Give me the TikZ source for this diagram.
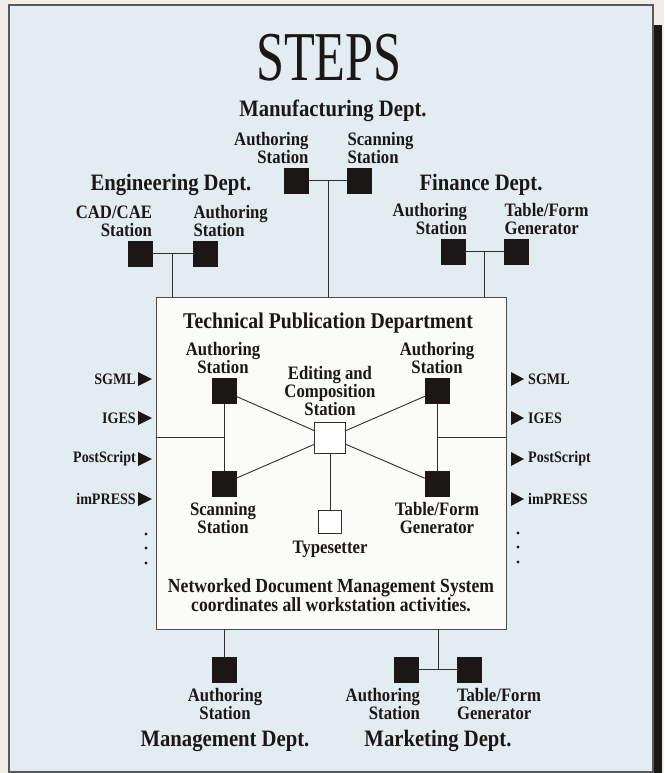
\documentclass[tikz,border=0pt]{standalone}
\usepackage{fontspec}
\setmainfont{Liberation Serif}
\newfontfamily\labfont[FakeStretch=0.88]{Liberation Serif}
\newfontfamily\ttlfont[FakeStretch=0.72]{Liberation Serif}
\definecolor{outer}{HTML}{F1EEE7}
\definecolor{panel}{HTML}{E3EDF1}
\definecolor{boxfill}{HTML}{FBFBF9}
\definecolor{ink}{HTML}{1B1717}
\definecolor{lncol}{HTML}{2E2E2E}
\tikzset{
  sq/.style={draw=ink, fill=ink, minimum width=24pt, minimum height=25pt, inner sep=0pt},
  wsq/.style={draw=lncol, line width=0.9pt, fill=white, inner sep=0pt},
  lbl/.style={font=\labfont\bfseries\fontsize{19}{18}\selectfont, inner sep=0pt, text=ink},
  deptlbl/.style={font=\labfont\bfseries\fontsize{23.5}{24}\selectfont, inner sep=0pt, text=ink},
  fmt/.style={font=\labfont\bfseries\fontsize{16}{16}\selectfont, inner sep=0pt, text=ink},
  ln/.style={draw=lncol, line width=0.9pt},
  tri/.style={fill=ink}
}
\begin{document}
\begin{tikzpicture}[x=1pt,y=-1pt]
\useasboundingbox (0,0) rectangle (664,773);
\fill[outer] (0,0) rectangle (664,773);
\fill[panel] (9,5) rectangle (653,772);
\draw[draw=black!65, line width=1.6pt] (9,772) -- (9,5) -- (653,5) -- (653,772) -- cycle;
\fill[ink] (654,25) rectangle (662,773);

% title
\node[font=\ttlfont\fontsize{70}{70}\selectfont, inner sep=0pt, text=ink, anchor=base] (title) at (329,81) {STEPS};

% main box
\node[draw=black!70, line width=0.8pt, fill=boxfill, minimum width=350pt, minimum height=332pt, inner sep=0pt] (box) at (331,463) {};

% Manufacturing
\node[deptlbl] (mdept) at (333,111) {Manufacturing Dept.};
\node[sq] (mA) at (296.5,180.5) {};
\node[sq] (mS) at (359.5,180.5) {};
\coordinate (mJ) at (328,180.5);
\node[lbl, align=right, anchor=south east] (mAl) at ([yshift=4pt]mA.north east) {Authoring\\Station};
\node[lbl, align=left, anchor=south west] (mSl) at ([yshift=4pt]mS.north west) {Scanning\\Station};
\draw[ln] (mA) -- (mS);
\draw[ln] (mJ) -- (mJ |- box.north);

% Engineering
\node[deptlbl] (edept) at (171,185) {Engineering Dept.};
\node[sq] (eC) at (140,253.5) {};
\node[sq] (eA) at (205.5,253.5) {};
\coordinate (eJ) at (172,253.5);
\node[lbl, align=right, anchor=south east] (eCl) at ([yshift=4pt]eC.north east) {CAD/CAE\\Station};
\node[lbl, align=left, anchor=south west] (eAl) at ([yshift=4pt]eA.north west) {Authoring\\Station};
\draw[ln] (eC) -- (eA);
\draw[ln] (eJ) -- (eJ |- box.north);

% Finance
\node[deptlbl] (fdept) at (481,185) {Finance Dept.};
\node[sq] (fA) at (453,251.5) {};
\node[sq] (fT) at (516.5,251.5) {};
\coordinate (fJ) at (484,251.5);
\node[lbl, align=right, anchor=south east] (fAl) at ([yshift=4pt,xshift=2pt]fA.north east) {Authoring\\Station};
\node[lbl, align=left, anchor=south west] (fTl) at ([yshift=4pt]fT.north west) {Table/Form\\Generator};
\draw[ln] (fA) -- (fT);
\draw[ln] (fJ) -- (fJ |- box.north);

% inside the box
\node[font=\labfont\bfseries\fontsize{22.5}{23}\selectfont, inner sep=0pt, text=ink] (tpd) at (328,323) {Technical Publication Department};
\node[sq] (lA) at (224,391) {};
\node[sq] (rA) at (437,391) {};
\node[wsq, minimum size=31pt] (ec) at (330,437.5) {};
\node[sq] (lS) at (224,483.5) {};
\node[sq] (rT) at (437,483.5) {};
\node[wsq, minimum size=23pt] (ty) at (330,521.5) {};
\node[lbl, align=center, anchor=south] (lAl) at ([yshift=4pt,xshift=-1pt]lA.north) {Authoring\\Station};
\node[lbl, align=center, anchor=south] (rAl) at ([yshift=4pt]rA.north) {Authoring\\Station};
\node[lbl, align=center, anchor=south] (ecl) at ([yshift=6pt]ec.north) {Editing and\\Composition\\Station};
\node[lbl, align=center, anchor=north] (lSl) at ([yshift=-6pt,xshift=-1pt]lS.south) {Scanning\\Station};
\node[lbl, align=center, anchor=north] (rTl) at ([yshift=-6pt]rT.south) {Table/Form\\Generator};
\node[lbl, anchor=north] (tyl) at ([yshift=-7pt]ty.south) {Typesetter};
\draw[ln] (lA) -- (ec);
\draw[ln] (rA) -- (ec);
\draw[ln] (lS) -- (ec);
\draw[ln] (rT) -- (ec);
\draw[ln] (lA) -- (lS);
\draw[ln] (rA) -- (rT);
\draw[ln] (ec) -- (ty);
\draw[ln] (box.west |- ec) -- (lA |- ec);
\draw[ln] (rA |- ec) -- (box.east |- ec);
\node[font=\labfont\bfseries\fontsize{20}{19}\selectfont, inner sep=0pt, text=ink, align=center] (nds) at (331,595) {Networked Document Management System\\coordinates all workstation activities.};

% side formats
\foreach \t/\yy [count=\i] in {SGML/379, IGES/418, PostScript/459, imPRESS/499}{
  \node[fmt, anchor=east] (lf\i) at (136,\yy) {\t};
  \fill[tri] (138,\yy-7) -- (152,\yy) -- (138,\yy+7) -- cycle;
  \node[fmt, anchor=west] (rf\i) at (528,\yy) {\t};
  \fill[tri] (511,\yy-7) -- (524,\yy) -- (511,\yy+7) -- cycle;
}
\foreach \yy in {534,548,563}{
  \fill[ink] (146,\yy) circle (1.6pt);
  \fill[ink] (518,\yy-1) circle (1.6pt);
}

% Management
\node[sq] (mg) at (224,669.5) {};
\draw[ln] (mg |- box.south) -- (mg);
\node[lbl, align=center, anchor=north] (mgl) at ([yshift=-6pt,xshift=1pt]mg.south) {Authoring\\Station};
\node[deptlbl] (mgdept) at (225,741) {Management Dept.};

% Marketing
\node[sq] (kA) at (406,669.5) {};
\node[sq] (kT) at (469,669.5) {};
\coordinate (kJ) at (438,669.5);
\draw[ln] (kA) -- (kT);
\draw[ln] (kJ |- box.south) -- (kJ);
\node[lbl, align=right, anchor=north east] (kAl) at ([yshift=-6pt,xshift=2pt]kA.south east) {Authoring\\Station};
\node[lbl, align=left, anchor=north west] (kTl) at ([yshift=-6pt]kT.south west) {Table/Form\\Generator};
\node[deptlbl] (kdept) at (438,741) {Marketing Dept.};
\end{tikzpicture}
\end{document}
